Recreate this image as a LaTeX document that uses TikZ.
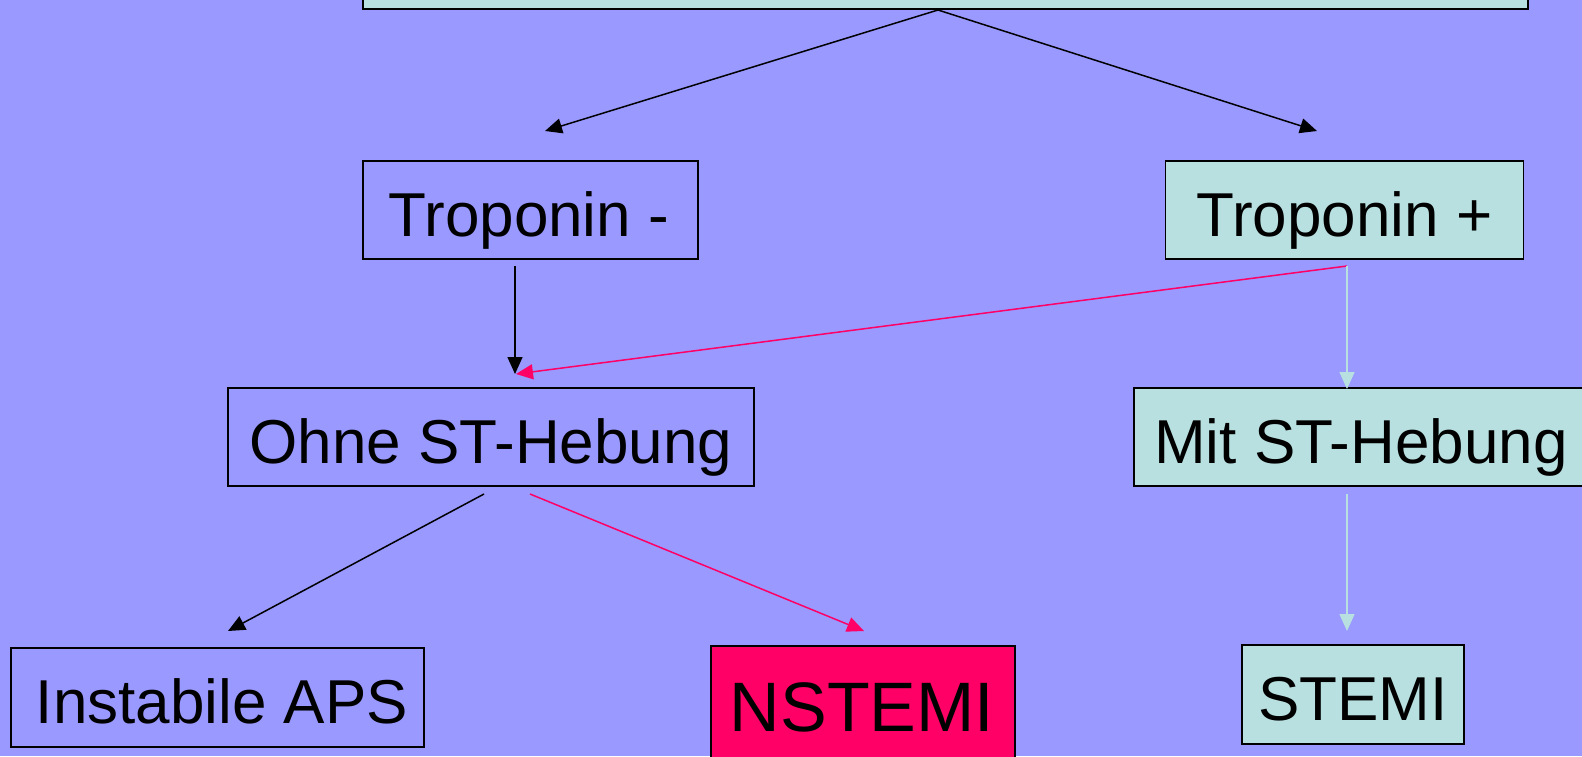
\documentclass[tikz,border=0pt]{standalone}
\usepackage{fontspec}
\setmainfont{Liberation Sans}
\usetikzlibrary{arrows.meta}
\definecolor{bg}{RGB}{153,153,255}
\definecolor{lightbox}{RGB}{184,224,224}
\definecolor{pinkc}{RGB}{255,0,102}
\tikzset{
  boxnode/.style={draw=black, line width=1.6pt, inner sep=0pt, minimum height=98pt},
  txt/.style={inner sep=0pt, anchor=base, font=\fontsize{62}{68}\selectfont},
  conn/.style={line width=1.5pt, -{Triangle[length=17pt,width=15pt]}},
}
\begin{document}
\begin{tikzpicture}[x=1pt,y=-1pt]
\useasboundingbox (0,0) rectangle (1582,756);
\clip (0,0) rectangle (1582,756);
\fill[bg] (0,0) rectangle (1582,756);
% top box (cut off)
\draw[fill=lightbox, line width=1.6pt] (363,-60) rectangle (1528,9);
\coordinate (apex) at (938,10);
% boxes
\node[boxnode, minimum width=335pt] (tm) at (530.5,210) {};
\node[boxnode, fill=lightbox, minimum width=358pt] (tp) at (1344.5,210) {};
\node[boxnode, minimum width=526pt] (oh) at (491,437) {};
\node[boxnode, fill=lightbox, minimum width=500pt] (mit) at (1384,437) {};
\node[boxnode, minimum width=413pt, minimum height=99pt] (ia) at (217.5,697.5) {};
\node[boxnode, fill=pinkc, minimum width=304pt, minimum height=130pt] (ns) at (863,711) {};
\node[boxnode, fill=lightbox, minimum width=222pt, minimum height=99pt] (st) at (1353,694.5) {};
% texts
\node[txt] (tmt) at (529,236) {Troponin -};
\node[txt] (tpt) at (1344.5,236) {Troponin +};
\node[txt] (oht) at (491,463) {Ohne ST-Hebung};
\node[txt, anchor=base west] (mitt) at (1154,463) {Mit ST-Hebung};
\node[txt] (iat) at (222,723) {Instabile APS};
\node[txt, font=\fontsize{70}{76}\selectfont] (nst) at (862,731) {NSTEMI};
\node[txt] (stt) at (1353,720) {STEMI};
% connector endpoints
\coordinate (e1) at (545,131);
\coordinate (e2) at (1317,131);
\coordinate (s3) at (515,266);
\coordinate (e3) at (515,374);
\coordinate (s4) at (1347,266);
\coordinate (e4) at (516,374);
\coordinate (e5) at (1347,389);
\coordinate (s6) at (484,494);
\coordinate (e6) at (228,631);
\coordinate (s7) at (530,494);
\coordinate (e7) at (864,631);
\coordinate (s8) at (1347,494);
\coordinate (e8) at (1347,631);
% connectors
\draw[conn] (apex) -- (e1);
\draw[conn] (apex) -- (e2);
\draw[conn] (s3) -- (e3);
\draw[conn, draw=pinkc, fill=pinkc] (s4) -- (e4);
\draw[conn, draw=lightbox, fill=lightbox] (s4) -- (e5);
\draw[conn] (s6) -- (e6);
\draw[conn, draw=pinkc, fill=pinkc] (s7) -- (e7);
\draw[conn, draw=lightbox, fill=lightbox] (s8) -- (e8);
\end{tikzpicture}
\end{document}
